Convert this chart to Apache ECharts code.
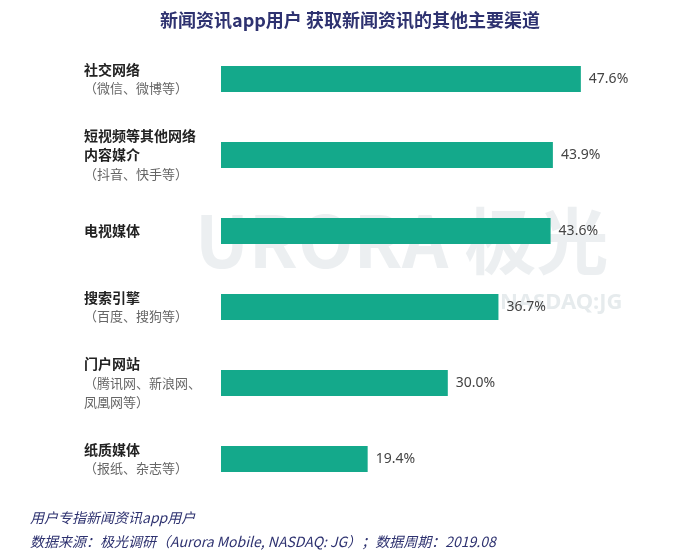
<!DOCTYPE html>
<html><head><meta charset="utf-8">
<script src="https://cdn.jsdelivr.net/npm/echarts@6/dist/echarts.min.js"></script>
<style>html,body{margin:0;padding:0;background:#fff}#c{width:700px;height:560px}</style>
</head><body><div id="c"></div>
<script>
const titles = [["社交网络"],["短视频等其他网络","内容媒介"],["电视媒体"],["搜索引擎"],["门户网站"],["纸质媒体"]];
const subs = [["（微信、微博等）"],["（抖音、快手等）"],[],["（百度、搜狗等）"],["（腾讯网、新浪网、","凤凰网等）"],["（报纸、杂志等）"]];
const values = [47.6, 43.9, 43.6, 36.7, 30.0, 19.4];
const categories = titles.map((t,i)=>t.map(s=>'{b|'+s+'}').concat(subs[i].map(s=>'{g|'+s+'}')).join('\n'));
const chart = echarts.init(document.getElementById('c'));
chart.setOption({
  animation:false,
  title:{text:'新闻资讯app用户 获取新闻资讯的其他主要渠道',left:'center',top:6,
    textStyle:{fontFamily:'Noto Sans CJK SC',fontSize:18,fontWeight:'bold',color:'#2e3270'}},
  graphic:[
    {type:'text',left:195,top:205,style:{text:'URORA 极光',fontSize:72,fontWeight:'bold',fontFamily:'Noto Sans CJK SC',fill:'rgba(200,210,215,0.35)'}},
    {type:'text',left:500,top:292,style:{text:'NASDAQ:JG',fontSize:22,fontWeight:'bold',fontFamily:'Noto Sans',fill:'rgba(200,210,215,0.45)'}},
    {type:'text',left:30,top:511,style:{text:'用户专指新闻资讯app用户',fontSize:14,fontStyle:'italic',fontFamily:'Noto Sans CJK SC',fill:'#2e3270'}},
    {type:'text',left:30,top:535,style:{text:'数据来源：极光调研（Aurora Mobile, NASDAQ: JG）；数据周期：2019.08',fontSize:14,fontStyle:'italic',fontFamily:'Noto Sans CJK SC',fill:'#2e3270'}}
  ],
  grid:{left:221,width:378,top:41,height:456},
  xAxis:{type:'value',min:0,max:50,show:false},
  yAxis:{type:'category',inverse:true,data:categories,
    axisLine:{show:false},axisTick:{show:false},
    axisLabel:{align:'left',margin:137,lineHeight:19,
      rich:{b:{fontSize:14,fontWeight:'bold',color:'#222',fontFamily:'Noto Sans CJK SC',lineHeight:19},
            g:{fontSize:13,color:'#666',fontFamily:'Noto Sans CJK SC',lineHeight:19}}}},
  series:[{type:'bar',data:values,barWidth:26,itemStyle:{color:'#14a98b'},
    label:{show:true,position:'right',distance:8,formatter:p=>p.value.toFixed(1)+'%',
      fontSize:14,color:'#444',fontFamily:'Noto Sans'}}]
});
</script></body></html>
